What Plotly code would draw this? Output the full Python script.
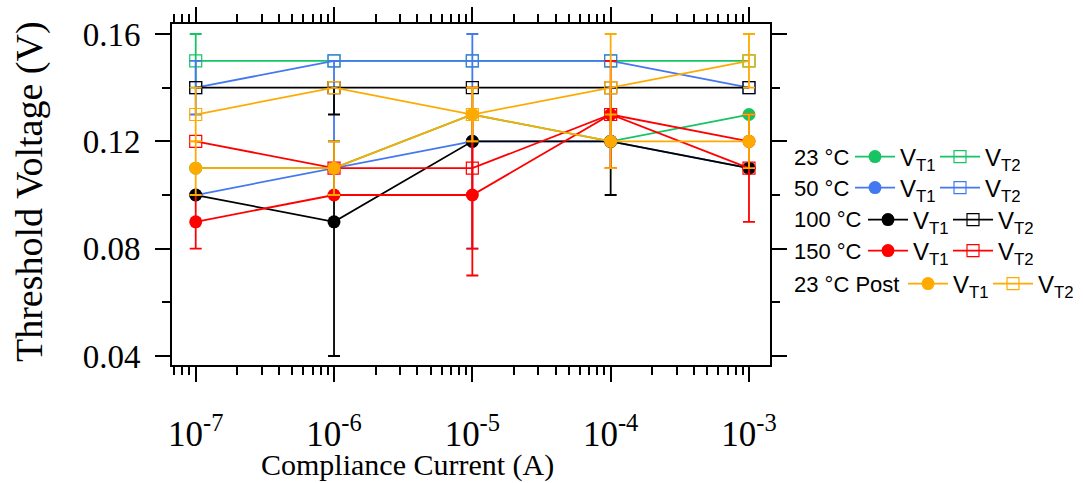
import numpy as np
import plotly.graph_objects as go

# Compliance current settings (A)
compliance = [1e-7, 1e-6, 1e-5, 1e-4, 1e-3]

# Threshold voltages (V) per temperature
vt1_23 = [0.11, 0.11, 0.13, 0.12, 0.13]
vt2_23 = [0.15, 0.15, 0.15, 0.15, 0.15]
vt1_50 = [0.10, 0.11, 0.12, 0.12, 0.11]
vt2_50 = [0.14, 0.15, 0.15, 0.15, 0.14]
vt1_100 = [0.10, 0.09, 0.12, 0.12, 0.11]
vt2_100 = [0.14, 0.14, 0.14, 0.14, 0.14]
vt1_150 = [0.09, 0.10, 0.10, 0.13, 0.12]
vt2_150 = [0.12, 0.11, 0.11, 0.13, 0.11]
vt1_post = [0.11, 0.11, 0.13, 0.12, 0.12]
vt2_post = [0.13, 0.14, 0.13, 0.14, 0.15]

# Error bars (upper, lower); None = no bar
err_vt1_23 = ([None] * 5, [None] * 5)
err_vt2_23 = ([0.01, None, None, None, None], [0.01, None, None, None, None])
err_vt1_50 = ([None, 0.04, 0.04, None, None], [None, 0.0, 0.04, None, None])
err_vt2_50 = ([0.01, None, None, None, None], [0.01, None, None, None, None])
err_vt1_100 = ([None, 0.03, None, 0.02, None], [None, 0.05, None, 0.02, None])
err_vt2_100 = ([None, 0.0, None, None, None], [None, 0.01, None, None, None])
err_vt1_150 = ([0.01, None, 0.03, None, None], [0.01, None, 0.03, None, None])
err_vt2_150 = ([None, None, 0.03, 0.02, 0.02], [None, None, 0.03, 0.02, 0.02])
err_vt1_post = ([0.01, 0.01, 0.01, 0.01, 0.01], [0.01, 0.01, 0.01, 0.01, 0.01])
err_vt2_post = ([0.01, None, 0.01, 0.02, 0.01], [0.01, None, 0.01, 0.02, 0.01])

row_labels = ["23 °C", "50 °C", "100 °C", "150 °C", "23 °C Post"]
series_names = ["V<sub>T1</sub>", "V<sub>T2</sub>"]
colors = ["#16C464", "#4478F0", "#000000", "#FF0000", "#FFAA00"]

groups = [
    (vt1_23, vt2_23, err_vt1_23, err_vt2_23),
    (vt1_50, vt2_50, err_vt1_50, err_vt2_50),
    (vt1_100, vt2_100, err_vt1_100, err_vt2_100),
    (vt1_150, vt2_150, err_vt1_150, err_vt2_150),
    (vt1_post, vt2_post, err_vt1_post, err_vt2_post),
]

SERIF = "Liberation Serif, Times New Roman, serif"
SANS = "Liberation Sans, Arial, sans-serif"

# figure geometry in pixels
W, H = 1083, 483
ML, MR, MT, MB = 172, 313, 24, 118
PW, PH = W - ML - MR, H - MT - MB


def px_x(p):
    return (p - ML) / PW


def px_y(p):
    return (H - MB - p) / PH


def err_array(vals):
    return np.array([np.nan if v is None else v for v in vals], dtype=float)


fig = go.Figure()
legend_ids = ["legend", "legend2", "legend3", "legend4", "legend5"]

for gi, (v1, v2, e1, e2) in enumerate(groups):
    c = colors[gi]
    for si, (vals, err) in enumerate(((v1, e1), (v2, e2))):
        marker = (
            dict(symbol="circle", size=13, color=c, line=dict(width=0))
            if si == 0
            else dict(symbol="square-open", size=12, color=c, line=dict(width=1.2, color=c))
        )
        fig.add_trace(go.Scatter(
            x=compliance, y=vals, mode="lines+markers",
            name=series_names[si], legend=legend_ids[gi],
            line=dict(color=c, width=1.8), marker=marker,
            error_y=dict(type="data", symmetric=False,
                         array=err_array(err[0]), arrayminus=err_array(err[1]),
                         color=c, thickness=1.8, width=6),
        ))

# one legend row per temperature
row_y = [157, 188, 220, 251, 284]
row_sym_x = [850, 850, 863, 863, 903]
legend_layouts = {}
for i, lid in enumerate(legend_ids):
    legend_layouts[lid] = dict(
        orientation="h", x=px_x(row_sym_x[i]), y=px_y(row_y[i]),
        xanchor="left", yanchor="middle", xref="paper", yref="paper",
        bgcolor="rgba(0,0,0,0)", borderwidth=0,
        font=dict(family=SANS, size=24, color="black"),
        entrywidth=30, entrywidthmode="pixels", itemwidth=40,
        tracegroupgap=0,
    )

annotations = []
for i, lab in enumerate(row_labels):
    annotations.append(dict(
        text=lab, x=px_x(792), y=px_y(row_y[i]), xref="paper", yref="paper",
        xanchor="left", yanchor="middle", showarrow=False,
        font=dict(family=SANS, size=22, color="black"),
    ))
annotations.append(dict(
    text="Compliance Current (A)", x=px_x(407), y=px_y(465), xref="paper", yref="paper",
    xanchor="center", yanchor="middle", showarrow=False,
    font=dict(family=SERIF, size=30, color="black"),
))
annotations.append(dict(
    text="Threshold Voltage (V)", x=px_x(29), y=px_y(192), xref="paper", yref="paper",
    xanchor="center", yanchor="middle", showarrow=False, textangle=-90,
    font=dict(family=SERIF, size=38, color="black"),
))

x_tickvals = [1e-7, 1e-6, 1e-5, 1e-4, 1e-3]
x_ticktext = ["10<sup>-7</sup>", "10<sup>-6</sup>", "10<sup>-5</sup>",
              "10<sup>-4</sup>", "10<sup>-3</sup>"]
y_tickvals = [0.04, 0.08, 0.12, 0.16]
y_ticktext = ["0.04", "0.08", "0.12", "0.16"]

fig.update_layout(
    width=W, height=H,
    margin=dict(l=ML, r=MR, t=MT, b=MB, pad=0, autoexpand=False),
    paper_bgcolor="white", plot_bgcolor="white",
    showlegend=True,
    annotations=annotations,
    xaxis=dict(
        type="log", range=[-7.1714, -2.848], automargin=False,
        tickmode="array", tickvals=x_tickvals, ticktext=x_ticktext,
        ticks="outside", ticklen=15, tickwidth=2, tickcolor="black",
        showline=True, linewidth=2, linecolor="black", mirror="allticks",
        showgrid=False, zeroline=False,
        tickfont=dict(family=SERIF, size=35, color="black"),
        ticklabelstandoff=22,
        minor=dict(ticks="outside", ticklen=8, tickwidth=2, tickcolor="black",
                   dtick="D1", showgrid=False),
    ),
    yaxis=dict(
        range=[0.03665, 0.16373], automargin=False,
        tickmode="array", tickvals=y_tickvals, ticktext=y_ticktext,
        ticks="outside", ticklen=15, tickwidth=2, tickcolor="black",
        showline=True, linewidth=2, linecolor="black", mirror="allticks",
        showgrid=False, zeroline=False,
        tickfont=dict(family=SERIF, size=33, color="black"),
        ticklabelstandoff=8,
        minor=dict(ticks="outside", ticklen=8, tickwidth=2, tickcolor="black",
                   tickvals=[0.06, 0.10, 0.14], showgrid=False),
    ),
    **legend_layouts,
)

fig.write_html("out.html")
